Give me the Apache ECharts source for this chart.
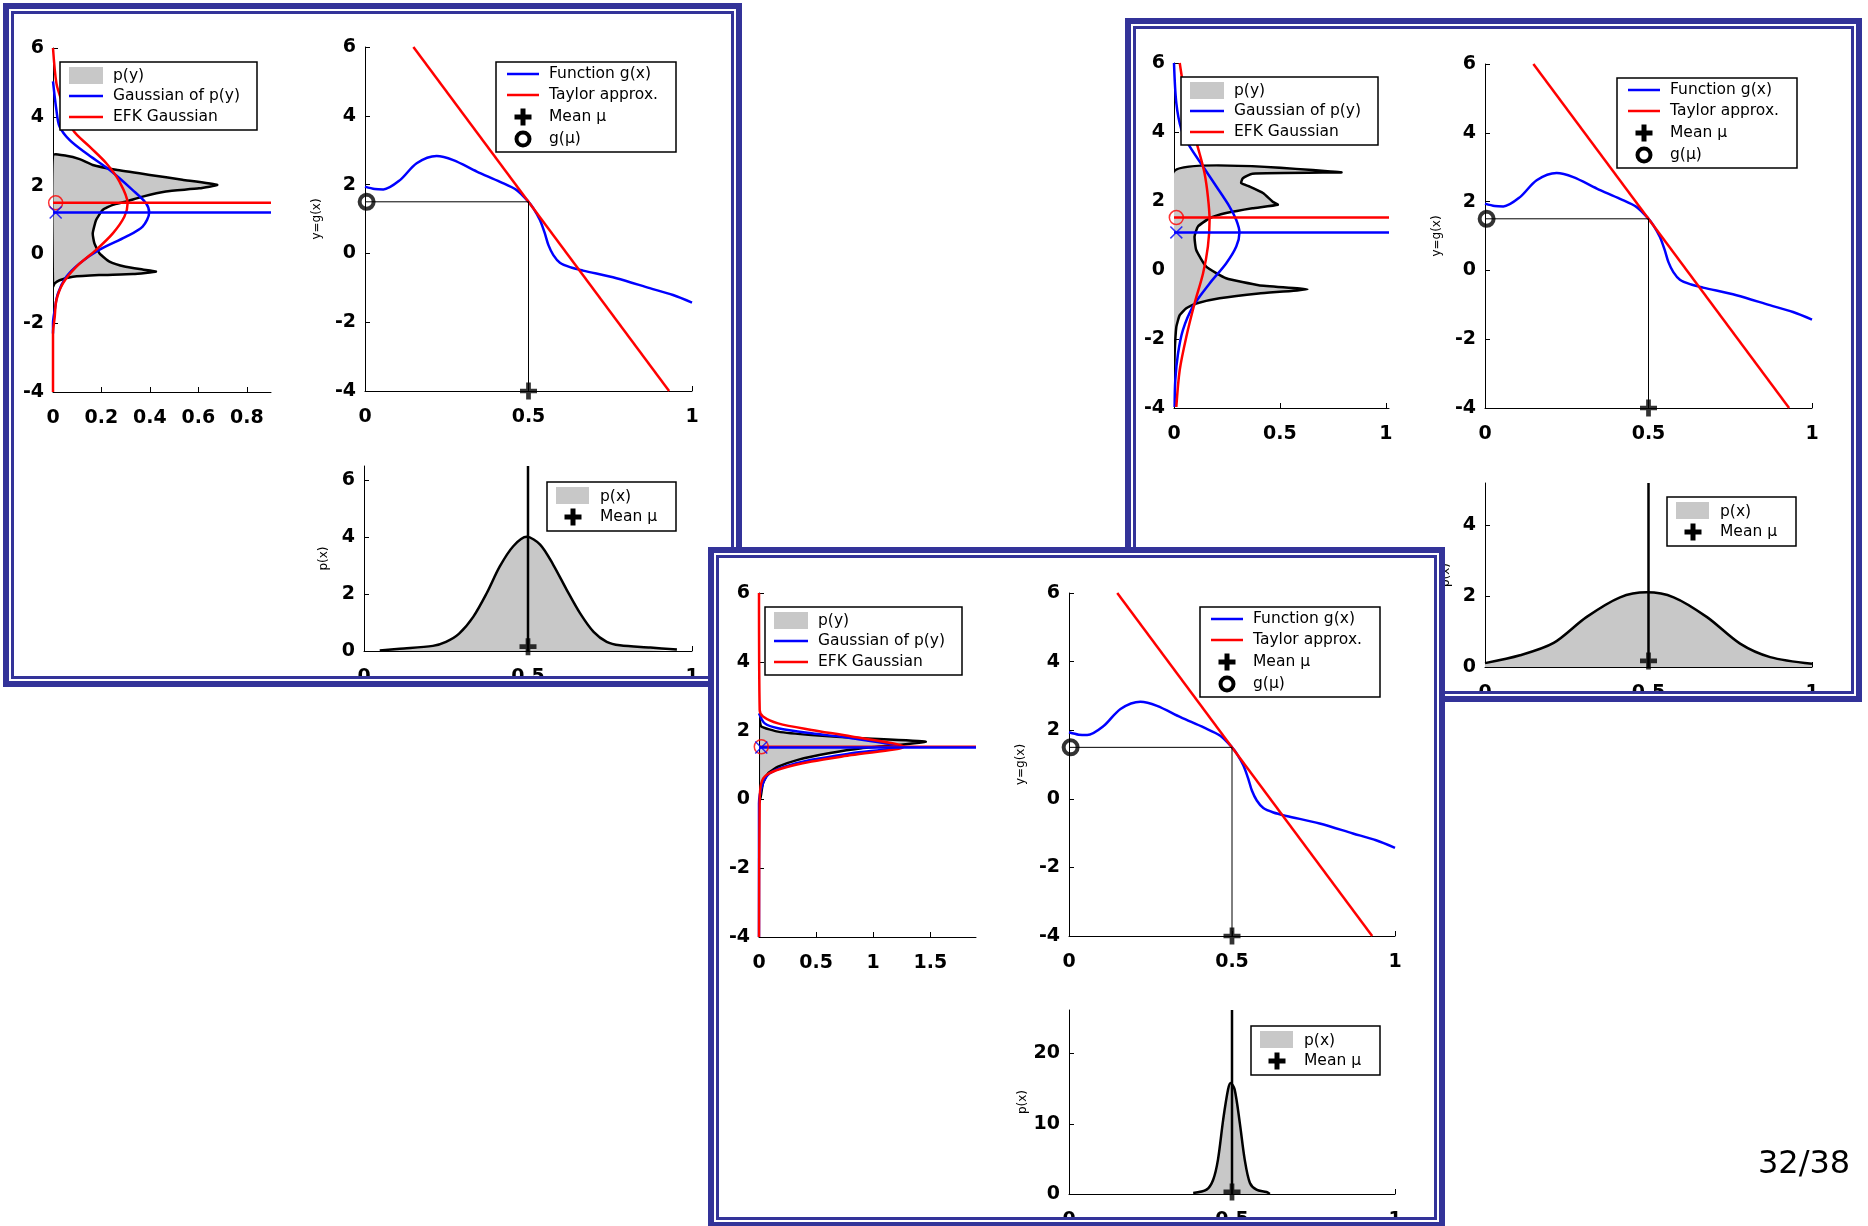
<!DOCTYPE html>
<html><head><meta charset="utf-8">
<script src="https://cdn.jsdelivr.net/npm/echarts@6/dist/echarts.min.js"></script>
<style>html,body{margin:0;padding:0;background:#fff}#c{width:1868px;height:1226px}</style>
</head><body><div id="c"></div>
<script>
// ---------------- DATA ----------------
// function g(x) (same in all three panels)
const gX = [0, 0.03, 0.056, 0.107, 0.158, 0.219, 0.27, 0.342, 0.413, 0.464, 0.5, 0.515, 0.535, 0.55, 0.561, 0.576, 0.596, 0.627, 0.667, 0.769, 0.871, 0.942, 1.0];
const gY = [1.94, 1.87, 1.86, 2.13, 2.62, 2.83, 2.71, 2.38, 2.08, 1.84, 1.5, 1.31, 0.97, 0.58, 0.24, -0.05, -0.27, -0.40, -0.50, -0.72, -1.01, -1.21, -1.43];
const taylorX = [0.148, 0.93];
const taylorY = [6, -4];
const meanX = 0.5;
const gMu = 1.5;

// Panel 1 (top-left)
const p1PyDens  = [0, 0.055, 0.11, 0.164, 0.26, 0.40, 0.534, 0.678, 0.603, 0.466, 0.37, 0.30, 0.247, 0.205, 0.178, 0.164, 0.171, 0.192, 0.233, 0.30, 0.37, 0.425, 0.33, 0.19, 0.082, 0.027, 0.007, 0];
const p1PyLevel = [2.89, 2.87, 2.77, 2.60, 2.46, 2.31, 2.17, 2.02, 1.92, 1.83, 1.68, 1.53, 1.44, 1.29, 1.00, 0.61, 0.32, 0.03, -0.21, -0.36, -0.44, -0.50, -0.57, -0.60, -0.65, -0.75, -0.84, -0.94];
const p1GaussDens  = [0, 0.014, 0.027, 0.068, 0.137, 0.233, 0.329, 0.384, 0.397, 0.37, 0.30, 0.19, 0.11, 0.055, 0.02, 0.007, 0, 0];
const p1GaussLevel = [5.03, 4.2, 3.72, 3.33, 2.94, 2.46, 1.87, 1.49, 1.22, 0.81, 0.51, 0.13, -0.26, -0.65, -1.14, -1.62, -2.0, -2.3];
const p1EkfDens  = [0, 0.014, 0.034, 0.082, 0.15, 0.22, 0.274, 0.308, 0.295, 0.247, 0.178, 0.096, 0.041, 0.014, 0.007, 0, 0];
const p1EkfLevel = [6, 4.98, 4.5, 3.62, 3.14, 2.65, 2.12, 1.49, 1.1, 0.61, 0.13, -0.36, -0.84, -1.33, -1.82, -2.3, -4];
const p1GaussMean = 1.22, p1EkfMean = 1.5, p1MarkX = 0.011;
const p1PxX = [0.048, 0.109, 0.21, 0.25, 0.29, 0.333, 0.374, 0.414, 0.455, 0.496, 0.537, 0.577, 0.618, 0.659, 0.70, 0.74, 0.78, 0.873, 0.954];
const p1PxY = [0.02, 0.08, 0.18, 0.32, 0.61, 1.2, 2.03, 2.97, 3.68, 4.01, 3.74, 3.03, 2.15, 1.32, 0.67, 0.32, 0.2, 0.12, 0.05];
const p1PxMarkY = 0.15;

// Panel 2 (top-right)
const p2PyDens  = [0, 0.79, 0.37, 0.325, 0.317, 0.356, 0.42, 0.466, 0.49, 0.37, 0.246, 0.168, 0.113, 0.097, 0.105, 0.152, 0.246, 0.4, 0.63, 0.4, 0.215, 0.105, 0.058, 0.027, 0.011, 0.003, 0];
const p2PyLevel = [2.86, 2.83, 2.79, 2.66, 2.52, 2.42, 2.23, 1.98, 1.89, 1.79, 1.65, 1.5, 1.26, 0.97, 0.58, 0.10, -0.24, -0.44, -0.56, -0.68, -0.82, -0.97, -1.11, -1.31, -1.65, -2.42, -3.2];
const p2GaussDens  = [0, 0.011, 0.035, 0.074, 0.137, 0.2, 0.262, 0.294, 0.309, 0.294, 0.246, 0.168, 0.089, 0.042, 0.019, 0.006, 0.003];
const p2GaussLevel = [6, 4.84, 4.07, 3.58, 3.0, 2.42, 1.84, 1.45, 1.09, 0.68, 0.19, -0.39, -1.06, -1.74, -2.42, -3.2, -3.97];
const p2EkfDens  = [0.027, 0.058, 0.089, 0.12, 0.144, 0.16, 0.168, 0.16, 0.137, 0.097, 0.058, 0.027, 0.011];
const p2EkfLevel = [6, 4.84, 4.07, 3.39, 2.81, 2.13, 1.45, 0.68, -0.1, -0.97, -1.94, -2.9, -3.97];
const p2GaussMean = 1.09, p2EkfMean = 1.52, p2MarkX = 0.011;
const p2PxX = [0, 0.107, 0.21, 0.31, 0.413, 0.495, 0.577, 0.679, 0.78, 0.872, 1.0];
const p2PxY = [0.11, 0.33, 0.68, 1.41, 1.97, 2.11, 1.97, 1.41, 0.66, 0.28, 0.09];
const p2PxMarkY = 0.17;

// Panel 3 (bottom-middle)
const p3PyDens  = [0, 0.02, 0.167, 0.46, 0.9, 1.46, 1.22, 0.9, 0.61, 0.34, 0.167, 0.08, 0.035, 0.015, 0];
const p3PyLevel = [2.41, 2.12, 1.97, 1.87, 1.78, 1.68, 1.58, 1.49, 1.34, 1.15, 0.95, 0.76, 0.47, 0.08, -0.1];
const p3GaussDens  = [0, 0.05, 0.167, 0.46, 0.81, 1.22, 0.81, 0.46, 0.226, 0.094, 0.035, 0, 0];
const p3GaussLevel = [2.5, 2.21, 2.07, 1.92, 1.78, 1.53, 1.34, 1.15, 0.95, 0.76, 0.47, -0.12, -4];
const p3EkfDens  = [0, 0.006, 0.035, 0.167, 0.46, 0.81, 1.27, 0.81, 0.46, 0.2, 0.065, 0.02, 0.006, 0];
const p3EkfLevel = [6, 2.6, 2.41, 2.21, 2.02, 1.83, 1.53, 1.29, 1.1, 0.9, 0.71, 0.47, -0.02, -4];
const p3GaussMean = 1.51, p3EkfMean = 1.53, p3MarkX = 0.02;
const p3PxX = [0.381, 0.422, 0.442, 0.457, 0.473, 0.488, 0.496, 0.508, 0.524, 0.539, 0.555, 0.575, 0.606, 0.616];
const p3PxY = [0.14, 0.62, 2.0, 4.9, 10.6, 14.9, 15.8, 14.9, 10.1, 4.9, 1.57, 0.62, 0.28, 0];
const p3PxMarkY = 0.3;

// tick labels
const ticksY = [-4, -2, 0, 2, 4, 6];
const ticksX01 = [0, 0.5, 1];
const p1PyTicks = [0, 0.2, 0.4, 0.6, 0.8];
const p2PyTicks = [0, 0.5, 1];
const p3PyTicks = [0, 0.5, 1, 1.5];
const p1PxTicks = [0, 2, 4, 6];
const p2PxTicks = [0, 2, 4];
const p3PxTicks = [0, 10, 20];
const pageLabel = '32/38';

// ---------------- STYLE / BUILD ----------------
const FR = '#333399', GRAY = '#c8c8c8', BLUE = '#0000ff', RED = '#ff0000';
const FONT = '"DejaVu Sans", sans-serif';
const zip = (a, b) => a.map((v, i) => [v, b[i]]);
const PLUS = 'path://M6.5,0H11.5V6.5H18V11.5H11.5V18H6.5V11.5H0V6.5H6.5Z';
const XMARK = 'path://M0,1.3L1.3,0L8,6.7L14.7,0L16,1.3L9.3,8L16,14.7L14.7,16L8,9.3L1.3,16L0,14.7L6.7,8Z';
const LW = 2.5;

const grids = [], xAxes = [], yAxes = [], series = [], gfx = [];

function addGrid(rect, xr, xt, yr, yt, yname, ygap, zl) {
  const gi = grids.length;
  grids.push(Object.assign({containLabel: false, outerBoundsMode: 'none'}, rect));
  const mk = (ticks) => ({
    axisLine: {show: true, onZero: false, lineStyle: {color: '#000', width: 1}},
    axisTick: {show: true, inside: true, length: 5, customValues: ticks, lineStyle: {color: '#000', width: 1}},
    axisLabel: {customValues: ticks, color: '#000', fontSize: 19, fontFamily: FONT, fontWeight: 'bold'},
    splitLine: {show: false}
  });
  const xa = Object.assign({type: 'value', gridIndex: gi, min: xr[0], max: xr[1], zlevel: zl}, mk(xt));
  xa.axisLabel.margin = 17;
  const ya = Object.assign({type: 'value', gridIndex: gi, min: yr[0], max: yr[1], zlevel: zl}, mk(yt));
  ya.axisLabel.margin = 9;
  if (yname) {
    Object.assign(ya, {name: yname, nameLocation: 'middle', nameRotate: 90, nameGap: ygap,
      nameTextStyle: {fontSize: 12, fontFamily: FONT, color: '#000'}});
  }
  xAxes.push(xa); yAxes.push(ya);
  return gi;
}
function line(gi, pts, color, width, zl, smooth) {
  series.push({type: 'line', xAxisIndex: gi, yAxisIndex: gi, data: pts, symbol: 'none', showSymbol: false,
    smooth: smooth || false, lineStyle: {color: color, width: width}, zlevel: zl, silent: true});
}
function area(gi, pts, zl) {
  series.push({type: 'line', xAxisIndex: gi, yAxisIndex: gi, data: pts, symbol: 'none', showSymbol: false,
    smooth: 0.3, lineStyle: {color: '#000', width: 2.5}, areaStyle: {color: GRAY, opacity: 1}, zlevel: zl, silent: true});
}
function poly(gi, dens, level, zl) {
  series.push({type: 'custom', xAxisIndex: gi, yAxisIndex: gi, data: [[0, 0]], zlevel: zl, silent: true, clip: true,
    renderItem: (params, api) => ({
      type: 'polygon',
      shape: {points: dens.map((d, i) => api.coord([d, level[i]])), smooth: 0.15},
      style: {fill: GRAY, stroke: '#000', lineWidth: 2.5}
    })});
}
function mark(gi, pt, symbol, size, itemStyle, zl) {
  series.push({type: 'scatter', xAxisIndex: gi, yAxisIndex: gi, data: [pt], symbol: symbol, symbolSize: size,
    itemStyle: itemStyle, zlevel: zl, z: 5, silent: true, clip: false});
}

function panel(P, zl) {
  // left: p(y)
  let gi = addGrid(P.gLeft, [0, P.pyMax], P.pyTicks, [-4, 6], ticksY, null, 0, zl);
  poly(gi, P.pyD, P.pyL, zl);
  line(gi, zip(P.gaD, P.gaL), BLUE, LW, zl, 0.3);
  line(gi, zip(P.ekD, P.ekL), RED, LW, zl, 0.3);
  line(gi, [[0, P.ekM], [P.pyMax, P.ekM]], RED, LW, zl);
  line(gi, [[0, P.gaM], [P.pyMax, P.gaM]], BLUE, LW, zl);
  mark(gi, [P.mX, P.ekM], 'circle', 14, {color: 'rgba(0,0,0,0)', borderColor: RED, borderWidth: 1.5}, zl);
  mark(gi, [P.mX, P.gaM], XMARK, 13, {color: BLUE}, zl);
  // middle: g(x)
  gi = addGrid(P.gMid, [0, 1], ticksX01, [-4, 6], ticksY, 'y=g(x)', 42, zl);
  line(gi, zip(gX, gY), BLUE, LW, zl, 0.3);
  line(gi, zip(taylorX, taylorY), RED, LW, zl);
  line(gi, [[0, gMu], [meanX, gMu], [meanX, -4]], '#000', 1, zl);
  mark(gi, [meanX, -4], PLUS, 17, {color: '#000'}, zl);
  mark(gi, [0.005, gMu], 'circle', 14, {color: 'rgba(0,0,0,0)', borderColor: '#000', borderWidth: 4}, zl);
  // bottom: p(x)
  gi = addGrid(P.gBot, [0, 1], ticksX01, [0, P.pxMax], P.pxTicks, 'p(x)', P.pxGap, zl);
  area(gi, zip(P.pxX, P.pxY), zl);
  line(gi, [[meanX, 0], [meanX, P.pxMax]], '#000', 2.5, zl);
  mark(gi, [meanX, P.pxMk], PLUS, 17, {color: '#000'}, zl);
}

function R(x, y, w, h, style, zl, z) { return {type: 'rect', silent: true, zlevel: zl, z: z, shape: {x: x, y: y, width: w, height: h}, style: style}; }
function L(x1, y1, x2, y2, color, w, zl, z) { return {type: 'line', silent: true, zlevel: zl, z: z, shape: {x1: x1, y1: y1, x2: x2, y2: y2}, style: {stroke: color, lineWidth: w}}; }
function T(x, y, text, zl, z) { return {type: 'text', silent: true, zlevel: zl, z: z, style: {x: x, y: y, text: text, fill: '#000', font: '15.5px ' + FONT, align: 'left', verticalAlign: 'middle'}}; }
function plusG(cx, cy, zl, z) { return [R(cx - 8.5, cy - 2.5, 17, 5, {fill: '#000'}, zl, z), R(cx - 2.5, cy - 8.5, 5, 17, {fill: '#000'}, zl, z)]; }

function legendLeft(x, y, zl) {
  const z = 60;
  gfx.push(R(x, y, 197, 68, {fill: '#fff', stroke: '#000', lineWidth: 1.5}, zl, z),
    R(x + 9, y + 5, 34, 17, {fill: GRAY}, zl, z), T(x + 53, y + 14, 'p(y)', zl, z),
    L(x + 9, y + 34, x + 43, y + 34, BLUE, 2.5, zl, z), T(x + 53, y + 34, 'Gaussian of p(y)', zl, z),
    L(x + 9, y + 55, x + 43, y + 55, RED, 2.5, zl, z), T(x + 53, y + 55, 'EFK Gaussian', zl, z));
}
function legendMid(x, y, zl) {
  const z = 60;
  gfx.push(R(x, y, 180, 90, {fill: '#fff', stroke: '#000', lineWidth: 1.5}, zl, z),
    L(x + 11, y + 12, x + 43, y + 12, BLUE, 2.5, zl, z), T(x + 53, y + 12, 'Function g(x)', zl, z),
    L(x + 11, y + 33, x + 43, y + 33, RED, 2.5, zl, z), T(x + 53, y + 33, 'Taylor approx.', zl, z),
    ...plusG(x + 27, y + 55, zl, z), T(x + 53, y + 55, 'Mean μ', zl, z),
    {type: 'circle', silent: true, zlevel: zl, z: z, shape: {cx: x + 27, cy: y + 77, r: 6.5}, style: {fill: 'none', stroke: '#000', lineWidth: 4}},
    T(x + 53, y + 77, 'g(μ)', zl, z));
}
function legendBot(x, y, zl) {
  const z = 60;
  gfx.push(R(x, y, 129, 49, {fill: '#fff', stroke: '#000', lineWidth: 1.5}, zl, z),
    R(x + 9, y + 5, 33, 17, {fill: GRAY}, zl, z), T(x + 53, y + 15, 'p(x)', zl, z),
    ...plusG(x + 26, y + 35, zl, z), T(x + 53, y + 35, 'Mean μ', zl, z));
}
function frame(x0, y0, x1, y1, zl) {
  const w = x1 - x0, h = y1 - y0, z = 100;
  gfx.push(R(x0 + 3, y0 + 3, w - 6, h - 6, {fill: 'none', stroke: FR, lineWidth: 6}, zl, z),
    R(x0 + 7, y0 + 7, w - 14, h - 14, {fill: 'none', stroke: '#fff', lineWidth: 2}, zl, z),
    R(x0 + 9.5, y0 + 9.5, w - 19, h - 19, {fill: 'none', stroke: FR, lineWidth: 3}, zl, z));
}

// Panel 1
panel({gLeft: {left: 53, top: 48, width: 218, height: 344}, pyMax: 0.9, pyTicks: p1PyTicks,
  pyD: p1PyDens, pyL: p1PyLevel, gaD: p1GaussDens, gaL: p1GaussLevel, ekD: p1EkfDens, ekL: p1EkfLevel,
  gaM: p1GaussMean, ekM: p1EkfMean, mX: p1MarkX,
  gMid: {left: 365, top: 47, width: 327, height: 344},
  gBot: {left: 364, top: 466, width: 328, height: 185}, pxMax: 6.5, pxTicks: p1PxTicks, pxGap: 34,
  pxX: p1PxX, pxY: p1PxY, pxMk: p1PxMarkY}, 0);
legendLeft(60, 62, 0); legendMid(496, 62, 0); legendBot(547, 482, 0);
frame(3, 3, 742, 687, 0);

// Panel 2
panel({gLeft: {left: 1174, top: 63, width: 215, height: 345}, pyMax: 1.015, pyTicks: p2PyTicks,
  pyD: p2PyDens, pyL: p2PyLevel, gaD: p2GaussDens, gaL: p2GaussLevel, ekD: p2EkfDens, ekL: p2EkfLevel,
  gaM: p2GaussMean, ekM: p2EkfMean, mX: p2MarkX,
  gMid: {left: 1485, top: 64, width: 327, height: 344},
  gBot: {left: 1485, top: 483, width: 327, height: 184}, pxMax: 5.2, pxTicks: p2PxTicks, pxGap: 33,
  pxX: p2PxX, pxY: p2PxY, pxMk: p2PxMarkY}, 0);
legendLeft(1181, 77, 0); legendMid(1617, 78, 0); legendBot(1667, 497, 0);
frame(1125, 18, 1862, 702, 0);

// Panel 3 (on top)
gfx.push(R(708, 547, 737, 690, {fill: '#fff'}, 1, -10));
panel({gLeft: {left: 759, top: 593, width: 217, height: 344}, pyMax: 1.9, pyTicks: p3PyTicks,
  pyD: p3PyDens, pyL: p3PyLevel, gaD: p3GaussDens, gaL: p3GaussLevel, ekD: p3EkfDens, ekL: p3EkfLevel,
  gaM: p3GaussMean, ekM: p3EkfMean, mX: p3MarkX,
  gMid: {left: 1069, top: 593, width: 326, height: 343},
  gBot: {left: 1069, top: 1010, width: 326, height: 184}, pxMax: 26.2, pxTicks: p3PxTicks, pxGap: 40,
  pxX: p3PxX, pxY: p3PxY, pxMk: p3PxMarkY}, 1);
legendLeft(765, 607, 1); legendMid(1200, 607, 1); legendBot(1251, 1026, 1);
frame(708, 547, 1445, 1228, 1);

// page number
gfx.push({type: 'text', silent: true, zlevel: 0, z: 10, style: {x: 1758, y: 1165, text: pageLabel, fill: '#000',
  font: '32px "DejaVu Sans", sans-serif', align: 'left', verticalAlign: 'middle'}});

const chart = echarts.init(document.getElementById('c'), null, {renderer: 'canvas'});
chart.setOption({
  animation: false,
  backgroundColor: '#fff',
  grid: grids, xAxis: xAxes, yAxis: yAxes, series: series,
  graphic: {elements: gfx}
});
</script></body></html>
